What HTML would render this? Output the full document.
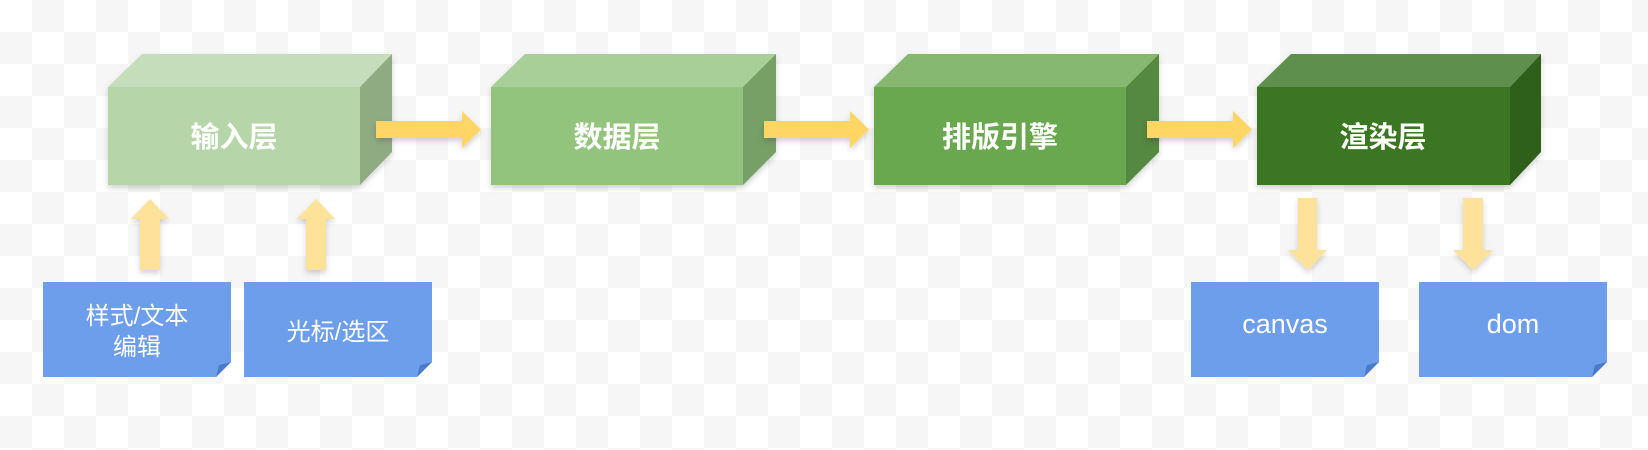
<!DOCTYPE html>
<html><head><meta charset="utf-8"><style>
html,body{margin:0;padding:0;width:1648px;height:450px;overflow:hidden}
body{background-color:#fff;background-image:linear-gradient(45deg,#f6f6f6 25%,transparent 25%,transparent 75%,#f6f6f6 75%),linear-gradient(45deg,#f6f6f6 25%,transparent 25%,transparent 75%,#f6f6f6 75%);background-size:64px 64px;background-position:0 0,32px 32px}
svg{position:absolute;left:0;top:0}
text{font-family:"Liberation Sans","Noto Sans CJK SC",sans-serif;fill:#fff}
</style></head><body>
<svg width="1648" height="450" viewBox="0 0 1648 450">
<defs><filter id="sh" x="-20%" y="-20%" width="140%" height="150%"><feDropShadow dx="0" dy="3" stdDeviation="3" flood-color="#000" flood-opacity="0.18"/></filter></defs>
<g filter="url(#sh)">
<polygon points="108,87 142,54 392,54 360,87" fill="#c5ddbb"/><polygon points="360,87 392,54 392,152 360,185" fill="#8fab82"/><rect x="108" y="87" width="252" height="98" fill="#b6d5a8"/>
</g>
<g filter="url(#sh)">
<polygon points="491,87 525,54 776,54 743,87" fill="#a9cf98"/><polygon points="743,87 776,54 776,152 743,185" fill="#76a065"/><rect x="491" y="87" width="252" height="98" fill="#93c47d"/>
</g>
<g filter="url(#sh)">
<polygon points="874,87 908,54 1159,54 1126,87" fill="#86b872"/><polygon points="1126,87 1159,54 1159,152 1126,185" fill="#55883f"/><rect x="874" y="87" width="252" height="98" fill="#6aa84f"/>
</g>
<g filter="url(#sh)">
<polygon points="1257,87 1291,54 1541,54 1510,87" fill="#5f8f4d"/><polygon points="1510,87 1541,54 1541,152 1510,185" fill="#2f611d"/><rect x="1257" y="87" width="253" height="98" fill="#3b7624"/>
</g>
<text x="234" y="147" font-size="29" font-weight="bold" text-anchor="middle">输入层</text>
<text x="617" y="147" font-size="29" font-weight="bold" text-anchor="middle">数据层</text>
<text x="1000" y="147" font-size="29" font-weight="bold" text-anchor="middle">排版引擎</text>
<text x="1383" y="147" font-size="29" font-weight="bold" text-anchor="middle">渲染层</text>
<g fill="#ffd666" filter="url(#sh)">
<polygon points="376,121 462,121 462,111 481,129.5 462,148 462,138 376,138"/>
<polygon points="764,121 850,121 850,111 869,129.5 850,148 850,138 764,138"/>
<polygon points="1147,121 1233,121 1233,111 1252,129.5 1233,148 1233,138 1147,138"/>
</g>
<g fill="#ffe299" filter="url(#sh)">
<polygon points="140,270 140,219 131,219 150,199 169,219 160,219 160,270"/>
<polygon points="306,270 306,219 297,219 316,199 335,219 326,219 326,270"/>
<polygon points="1298,198 1317,198 1317,250 1327,250 1308,270 1288,250 1298,250"/>
<polygon points="1463,198 1483,198 1483,250 1493,250 1473,270 1453,250 1463,250"/>
</g>
<g>
<polygon points="43,282 231,282 231,362 216,377 43,377" fill="#6d9eeb"/><polygon points="216,377 231,362 219,365" fill="#4a7bc8"/>
<polygon points="244,282 432,282 432,362 417,377 244,377" fill="#6d9eeb"/><polygon points="417,377 432,362 420,365" fill="#4a7bc8"/>
<polygon points="1191,282 1379,282 1379,362 1364,377 1191,377" fill="#6d9eeb"/><polygon points="1364,377 1379,362 1367,365" fill="#4a7bc8"/>
<polygon points="1419,282 1607,282 1607,362 1592,377 1419,377" fill="#6d9eeb"/><polygon points="1592,377 1607,362 1595,365" fill="#4a7bc8"/>
</g>
<text x="137" y="324" font-size="24" text-anchor="middle">样式/文本</text>
<text x="137" y="355" font-size="24" text-anchor="middle">编辑</text>
<text x="338" y="340" font-size="24" text-anchor="middle">光标/选区</text>
<text x="1285" y="333" font-size="27" text-anchor="middle">canvas</text>
<text x="1513" y="333" font-size="27" text-anchor="middle">dom</text>
</svg>
</body></html>
